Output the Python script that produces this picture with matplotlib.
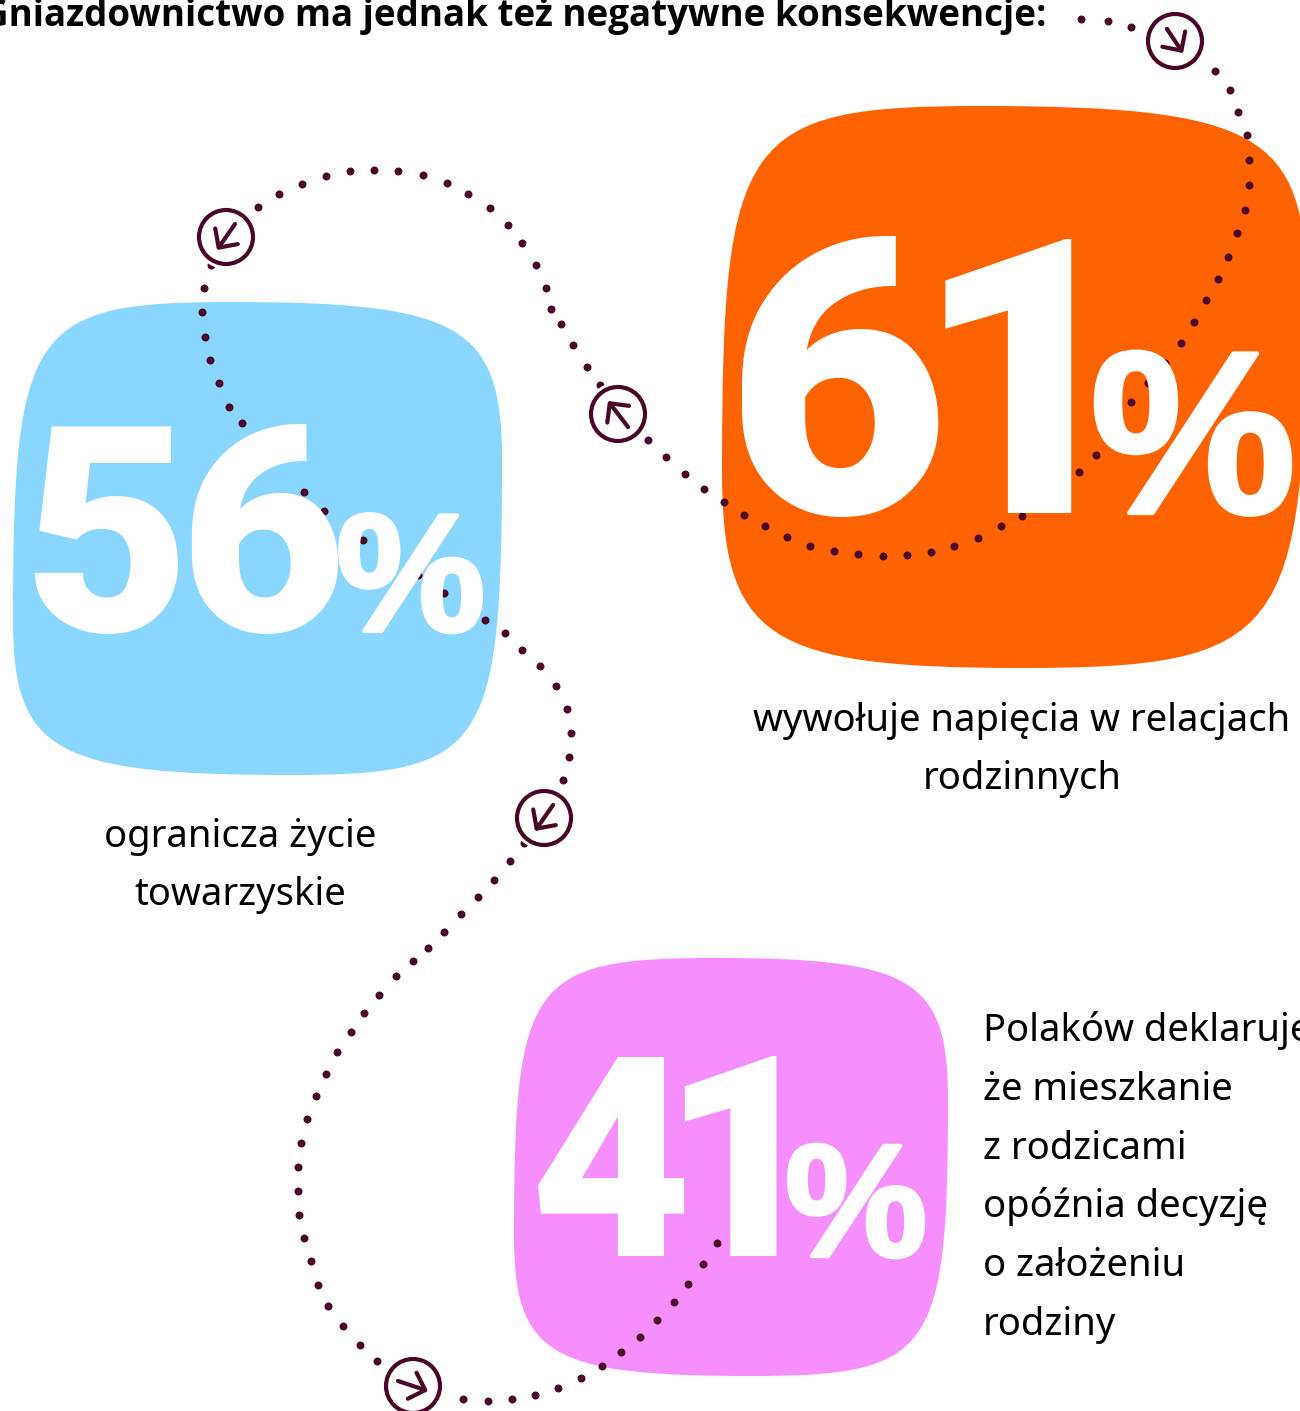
# Infographic: three percentages on coloured blobs joined by a dotted route
import matplotlib
matplotlib.use("Agg")
import matplotlib.pyplot as plt
import matplotlib.patheffects as pe
from matplotlib.patches import Circle, PathPatch
from matplotlib.path import Path

W, H = 1300, 1411

heading = "Gniazdownictwo ma jednak też negatywne konsekwencje:"
percent_values = ["61", "56", "41"]
blob_colors = ["#FF6200", "#89D6FF", "#F68EFD"]
# top, right, bottom, left extreme of every blob
blob_points = [
    [(980, 106), (1306, 290), (1020, 668), (722, 470)],
    [(230, 302), (502, 460), (290, 775), (13, 620)],
    [(715, 958), (948, 1100), (750, 1376), (514, 1235)],
]
# x of each digit, baseline, font size in pixels
number_places = [((726, 914), 513, 385), ((24, 179), 631, 287), ((530, 661), 1256, 280)]
percent_places = [(1090, 513, 232), (336, 631, 168), (785, 1256, 160)]

labels = [
    ("wywołuje napięcia w relacjach", 1022, 731, "center"),
    ("rodzinnych", 1022, 789, "center"),
    ("ogranicza życie", 240, 847, "center"),
    ("towarzyskie", 240, 905, "center"),
    ("Polaków deklaruje", 983, 1041, "left"),
    ("że mieszkanie", 983, 1100, "left"),
    ("z rodzicami", 983, 1159, "left"),
    ("opóźnia decyzję", 983, 1217, "left"),
    ("o założeniu", 983, 1276, "left"),
    ("rodziny", 983, 1335, "left"),
]

dots_x = [1081, 1108, 1131, 1215, 1230, 1238, 1247, 1249, 1249, 1245, 1237, 1228, 1218, 1206,
          1194, 1181, 1165, 1148, 1131, 1112, 1096, 1079, 1022, 1001, 978, 954, 931, 907, 883,
          858, 834, 810, 787, 765, 744, 724, 704, 685, 666, 648, 600, 587, 573, 561, 551, 546,
          536, 522, 508, 490, 468, 447, 423, 398, 374, 350, 326, 302, 279, 258, 211, 204, 202,
          205, 210, 219, 229, 242, 304, 324, 363, 418, 444, 485, 505, 522, 540, 556, 567, 571,
          569, 563, 524, 510, 494, 478, 461, 444, 428, 413, 396, 379, 364, 351, 337, 326, 316,
          307, 301, 298, 298, 299, 304, 311, 318, 328, 343, 360, 377, 463, 488, 512, 535, 558,
          581, 602, 621, 640, 657, 674, 688, 703, 717]
dots_y = [19, 21, 27, 71, 90, 112, 135, 160, 185, 210, 233, 257, 279, 300,
          322, 343, 363, 383, 402, 436, 455, 472, 516, 526, 538, 546, 552, 555, 556,
          554, 551, 546, 537, 526, 515, 502, 489, 474, 457, 440, 385, 367, 345, 324, 309, 288,
          265, 243, 225, 208, 194, 183, 175, 171, 170, 171, 176, 184, 194, 207, 265, 288, 312,
          337, 360, 383, 407, 423, 492, 511, 540, 575, 593, 620, 633, 650, 666, 686, 709, 733,
          757, 780, 843, 861, 880, 897, 914, 932, 948, 961, 976, 995, 1013, 1032, 1052, 1074, 1096,
          1119, 1143, 1167, 1191, 1215, 1238, 1261, 1285, 1306, 1326, 1345, 1361, 1399, 1401, 1399, 1395, 1388,
          1378, 1366, 1352, 1337, 1320, 1302, 1284, 1264, 1243]

# centre of each arrow badge and the direction of its arrow
badge_x = [1175, 618, 226, 544, 413]
badge_y = [41, 414, 237, 818, 1386]
arrow_dx = [8, -10, -9, -9, 15]
arrow_dy = [12, -13, 13, 13, 5]

DARK = "#4A0528"
# corner tightness: top right, bottom right, bottom left, top left
K = [0.85, 0.92, 0.85, 0.92]


def blob_path(pts):
    """Closed squircle through four extreme points."""
    verts = [pts[0]]
    n = len(pts)
    for i in range(n):
        a, b = pts[i], pts[(i + 1) % n]
        k = K[i]
        if i % 2 == 0:
            c1 = (a[0] + k * (b[0] - a[0]), a[1])
            c2 = (b[0], b[1] - k * (b[1] - a[1]))
        else:
            c1 = (a[0], a[1] + k * (b[1] - a[1]))
            c2 = (b[0] + k * (a[0] - b[0]), b[1])
        verts += [c1, c2, b]
    codes = [Path.MOVETO] + [Path.CURVE4] * (len(verts) - 1)
    return Path(verts, codes)


fig = plt.figure(figsize=(W / 100, H / 100), dpi=100)
ax = fig.add_axes([0, 0, 1, 1])
ax.set_xlim(0, W)
ax.set_ylim(H, 0)
ax.axis("off")

for pts, color in zip(blob_points, blob_colors):
    ax.add_patch(PathPatch(blob_path(pts), facecolor=color, edgecolor="none", zorder=1))

ax.scatter(dots_x, dots_y, s=33, color=DARK, linewidths=0, zorder=2)

# digits sit over the dotted route, placed one by one because the original is set tight
for value, (xs, y, px) in zip(percent_values, number_places):
    for digit, x in zip(value, xs):
        ax.text(x, y, digit, fontsize=px * 0.72, family="Roboto", weight=900,
                color="white", ha="left", va="baseline", zorder=3)
for (x, y, px) in percent_places:
    ax.text(x, y, "%", fontsize=px * 0.72, family="Liberation Sans", weight=700,
            color="white", ha="left", va="baseline", zorder=3,
            path_effects=[pe.withStroke(linewidth=3, foreground="white")])

for x, y, dx, dy in zip(badge_x, badge_y, arrow_dx, arrow_dy):
    ax.add_patch(Circle((x, y), 32, facecolor="white", edgecolor="none", zorder=4))
    ax.add_patch(Circle((x, y), 27, facecolor="none", edgecolor=DARK, linewidth=3, zorder=5))
    ax.annotate("", xy=(x + dx, y + dy), xytext=(x - dx, y - dy), zorder=6,
                arrowprops=dict(arrowstyle="->,head_length=0.38,head_width=0.38", color=DARK,
                                lw=3, shrinkA=0, shrinkB=0, mutation_scale=26))

for text, x, y, align in labels:
    ax.text(x, y, text, fontsize=27.5, family="Noto Sans", color="black", ha=align, va="baseline", zorder=7)

ax.text(1047, 26, heading, fontsize=26.5, family="Open Sans", weight=700, color="black",
        ha="right", va="baseline", zorder=7)

fig.savefig("out.png", dpi=100)
